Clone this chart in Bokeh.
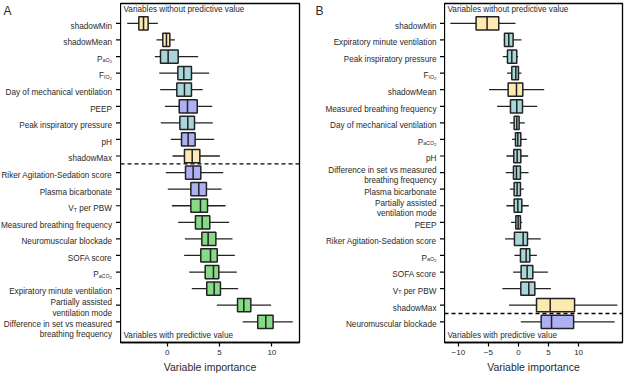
from bokeh.plotting import figure
from bokeh.layouts import row
from bokeh.models import Range1d, FixedTicker, Label, Span
from bokeh.embed import file_html
from bokeh.resources import INLINE

# ---------------- data ----------------
names_A = ["shadowMin", "shadowMean", "PaO2", "FiO2", "Day of mechanical ventilation", "PEEP",
           "Peak inspiratory pressure", "pH", "shadowMax", "Riker Agitation-Sedation score",
           "Plasma bicarbonate", "VT per PBW", "Measured breathing frequency",
           "Neuromuscular blockade", "SOFA score", "PaCO2", "Expiratory minute ventilation",
           "Partially assisted\nventilation mode",
           "Difference in set vs measured\nbreathing frequency"]
group_A = ["shadow", "shadow", "tentative", "tentative", "tentative", "lav", "tentative", "lav",
           "shadow", "lav", "lav", "conf", "conf", "conf", "conf", "conf", "conf", "conf", "conf"]
lo_A = [-3.82, -1.02, -1.18, -0.76, -0.67, -0.22, -0.61, 0.35, 0.51, -0.13, 0.06, 0.45, 1.05, 1.69, 1.62, 2.10, 2.35, 4.74, 7.22]
q1_A = [-2.71, -0.42, -0.64, 1.02, 0.92, 1.15, 1.21, 1.37, 1.65, 1.75, 2.26, 2.26, 2.70, 3.31, 3.21, 3.63, 3.78, 6.72, 8.65]
med_A = [-2.26, -0.07, 0.09, 1.59, 1.65, 1.94, 1.97, 2.00, 2.39, 2.48, 3.02, 3.18, 3.34, 3.91, 4.14, 4.42, 4.49, 7.32, 9.42]
q3_A = [-1.82, 0.25, 1.05, 2.32, 2.32, 2.87, 2.61, 2.67, 3.12, 3.21, 3.75, 3.85, 4.07, 4.65, 4.78, 4.93, 5.09, 7.99, 10.12]
hi_A = [-0.89, 0.73, 2.96, 4.01, 3.40, 4.30, 4.36, 4.49, 5.03, 5.35, 5.19, 5.57, 5.92, 6.24, 6.46, 6.65, 6.78, 9.93, 12.00]

names_B = ["shadowMin", "Expiratory minute ventilation", "Peak inspiratory pressure", "FiO2",
           "shadowMean", "Measured breathing frequency", "Day of mechanical ventilation", "PaCO2",
           "pH", "Difference in set vs measured\nbreathing frequency", "Plasma bicarbonate",
           "Partially assisted\nventilation mode", "PEEP", "Riker Agitation-Sedation score",
           "PaO2", "SOFA score", "VT per PBW", "shadowMax", "Neuromuscular blockade"]
group_B = ["shadow", "tentative", "tentative", "tentative", "shadow", "tentative", "tentative",
           "tentative", "tentative", "tentative", "tentative", "tentative", "tentative",
           "tentative", "tentative", "tentative", "tentative", "shadow", "lav"]
lo_B = [-11.33, -2.44, -2.61, -1.89, -4.89, -3.56, -1.44, -1.06, -2.00, -2.11, -1.44, -2.00, -1.22, -2.22, -0.67, -0.89, -2.67, -1.56, 0.39]
q1_B = [-7.05, -2.33, -1.83, -1.11, -1.72, -1.33, -0.72, -0.50, -0.78, -0.83, -0.72, -0.72, -0.44, -0.67, 0.33, 0.44, 0.39, 3.00, 3.78]
med_B = [-5.22, -1.61, -1.11, -0.44, -0.33, -0.28, -0.28, -0.11, -0.22, -0.33, -0.22, -0.11, -0.06, 0.78, 1.28, 1.44, 1.72, 5.28, 5.50]
q3_B = [-3.28, -0.89, -0.28, 0.00, 0.72, 0.67, 0.11, 0.39, 0.39, 0.33, 0.33, 0.56, 0.33, 1.50, 1.89, 2.39, 2.72, 9.33, 9.17]
hi_B = [-0.50, 0.50, -0.06, 0.50, 4.28, 3.11, 1.06, 1.39, 1.61, 1.67, 0.89, 1.72, 0.61, 3.72, 3.06, 4.89, 5.39, 16.44, 16.00]

xticks_A = [0, 5, 10]
xticks_B = [-10, -5, 0, 5, 10]

COLORS = {"shadow": "#FDEAB2", "tentative": "#A8D6DA", "lav": "#ADB1F3", "conf": "#86DB86"}

# subscripted labels: (main, subscript, sub-subscript, tail)
RICH = {
    "PaO2": ("P", "aO", "2", ""),
    "PaCO2": ("P", "aCO", "2", ""),
    "FiO2": ("F", "IO", "2", ""),
    "VT per PBW": ("V", "T", "", "per PBW"),
}

FONT = "Liberation Sans"
TXT = "#2a2a2a"
FS = 8.2
SUB1 = 5.3
SUB2 = 4.4
Y_RANGE = (19.25, -1.2)
BORDER_TOP = 3
BORDER_BOTTOM = 31
HEIGHT = 375
PX_PER_ROW = (HEIGHT - BORDER_TOP - BORDER_BOTTOM) / (Y_RANGE[0] - Y_RANGE[1])

# Arial / Liberation Sans advance widths (1/1000 em)
AW = {"P": 667, "a": 556, "O": 778, "C": 722, "2": 556, "F": 611, "I": 278, "V": 667,
      "T": 611, " ": 278, "p": 556, "e": 556, "r": 333, "B": 667, "W": 944}


def tw(s, size):
    return sum(AW.get(c, 556) for c in s) * size / 1000.0


def lab(p, x, y, text, size, align="left", baseline="alphabetic"):
    p.add_layout(Label(x=x, y=y, text=text, text_font=FONT, text_font_size=f"{size}px",
                       text_color=TXT, text_align=align, text_baseline=baseline))


def label_panel(letter, names, width, text_right, nudges):
    """Narrow figure holding the category labels and the y tick marks."""
    p = figure(width=width, height=HEIGHT, output_backend="svg", toolbar_location=None,
               x_range=Range1d(0, width), y_range=Range1d(*Y_RANGE),
               x_axis_location=None, y_axis_location=None,
               min_border_left=0, min_border_right=0, min_border_top=BORDER_TOP,
               min_border_bottom=BORDER_BOTTOM)
    p.xgrid.visible = False
    p.ygrid.visible = False
    p.outline_line_color = None
    rows = list(range(len(names)))
    # tick marks
    p.segment(x0=[width - 4.5] * len(rows), y0=rows, x1=[width + 1] * len(rows), y1=rows,
              line_color="black", line_width=1.2)
    base = 0.35 * FS / PX_PER_ROW
    for i, nm in enumerate(names):
        yc = i + base + nudges.get(i, 0.0) / PX_PER_ROW
        if nm in RICH:
            main, s1, s2, tail = RICH[nm]
            gap = tw(" ", FS) if tail else 0.0
            parts = [(main, FS, 0.0), (s1, SUB1, 1.0), (s2, SUB2, 2.4)]
            total = sum(tw(t, s) for t, s, _ in parts) + gap + tw(tail, FS)
            cur = text_right - total
            for t, s, dy in parts:
                if t:
                    lab(p, cur, yc + dy / PX_PER_ROW, t, s)
                cur += tw(t, s)
            if tail:
                lab(p, text_right, yc, tail, FS, align="right")
        else:
            lines = nm.split("\n")
            nl = len(lines)
            for k, ln in enumerate(lines):
                off = (k - (nl - 1) / 2) * 10.5 / PX_PER_ROW
                lab(p, text_right, yc + off, ln, FS, align="right")
    p.add_layout(Label(x=3, y=Y_RANGE[1], y_offset=0, text=letter, text_font=FONT,
                       text_font_size="12px", text_color=TXT, text_align="left",
                       text_baseline="top"))
    return p


def make_panel(names, groups, lo, q1, med, q3, hi, xr, xticks, width, bright, dash_y):
    n = len(names)
    rows = list(range(n))
    p = figure(width=width, height=HEIGHT, output_backend="svg", toolbar_location=None,
               x_range=Range1d(*xr), y_range=Range1d(*Y_RANGE), y_axis_location=None,
               min_border_left=0, min_border_right=bright, min_border_top=BORDER_TOP,
               min_border_bottom=BORDER_BOTTOM)
    p.xgrid.visible = False
    p.ygrid.visible = False
    p.outline_line_color = "black"
    p.outline_line_width = 1.3

    colors = [COLORS[g] for g in groups]
    p.segment(x0=lo, y0=rows, x1=hi, y1=rows, line_color="#222222", line_width=1.3)
    p.hbar(y=rows, left=q1, right=q3, height=0.8, fill_color=colors, line_color="#222222",
           line_width=1.5)
    p.segment(x0=med, y0=[r - 0.4 for r in rows], x1=med, y1=[r + 0.4 for r in rows],
              line_color="#222222", line_width=1.5)

    p.add_layout(Span(location=dash_y, dimension="width", line_color="black",
                      line_width=1.3, line_dash="4 3"))

    xax = p.xaxis[0]
    xax.ticker = FixedTicker(ticks=xticks)
    xax.major_label_overrides = {t: (f"\u2212{abs(t)}" if t < 0 else str(t)) for t in xticks}
    xax.major_label_text_font = FONT
    xax.major_label_text_font_size = "8px"
    xax.major_label_text_color = TXT
    xax.major_tick_out = 4
    xax.major_tick_in = 0
    xax.minor_tick_line_color = None
    xax.major_label_standoff = 3
    xax.axis_label = "Variable importance"
    xax.axis_label_text_font = FONT
    xax.axis_label_text_font_size = "10.5px"
    xax.axis_label_text_font_style = "normal"
    xax.axis_label_text_color = TXT
    xax.axis_label_standoff = 3
    xax.axis_line_width = 1.3
    xax.major_tick_line_width = 1.2

    p.add_layout(Label(x=xr[0], y=Y_RANGE[1], x_offset=3, y_offset=-1,
                       text="Variables without predictive value", text_font=FONT,
                       text_font_size=f"{FS}px", text_color=TXT, text_align="left",
                       text_baseline="top"))
    p.add_layout(Label(x=xr[0], y=Y_RANGE[0], x_offset=3, y_offset=3,
                       text="Variables with predictive value", text_font=FONT,
                       text_font_size=f"{FS}px", text_color=TXT, text_align="left",
                       text_baseline="bottom"))
    return p


labA = label_panel("A", names_A, 120, 111.5, {18: 5.0})
pA = make_panel(names_A, group_A, lo_A, q1_A, med_A, q3_A, hi_A, (-4.46, 12.64),
                xticks_A, 192, 13, 8.47)
labB = label_panel("B", names_B, 132, 124.0, {})
pB = make_panel(names_B, group_B, lo_B, q1_B, med_B, q3_B, hi_B, (-12.3, 17.3),
                xticks_B, 180, 2, 17.5)

layout = row(labA, pA, labB, pB, spacing=0)
open("out.html", "w").write(file_html(layout, INLINE))
